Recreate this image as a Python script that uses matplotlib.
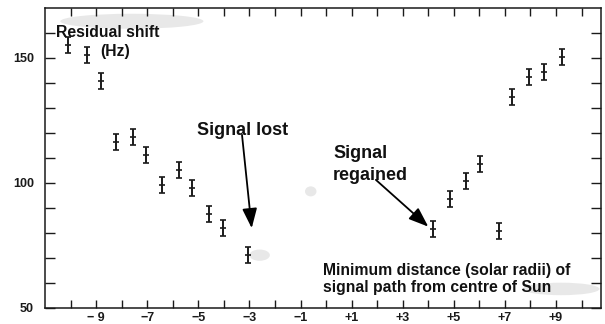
import matplotlib
matplotlib.use("Agg")
import matplotlib.pyplot as plt
from matplotlib.patches import Ellipse
import numpy as np

# ---- data ----
x_vals = [-10.09, -9.37, -8.81, -8.23, -7.55, -7.05, -6.44, -5.76, -5.25, -4.57, -4.05, -3.05,
          4.20, 4.85, 5.48, 6.03, 6.77, 7.27, 7.94, 8.54, 9.22]
y_vals = [155.1, 151.2, 140.5, 116.3, 118.4, 111.2, 99.2, 105.1, 98.0, 87.6, 82.0, 71.0,
          81.3, 93.5, 100.7, 107.5, 80.7, 134.4, 142.2, 144.3, 150.4]
y_err = [3.2] * len(x_vals)

x_tick_pos = [-9, -7, -5, -3, -1, 1, 3, 5, 7, 9]
x_tick_labels = ['\u2212 9', '\u22127', '\u22125', '\u22123', '\u22121', '+1', '+3', '+5', '+7', '+9']
y_tick_pos = [50, 100, 150]
y_tick_labels = ['50', '100', '150']

plt.rcParams['font.family'] = ['Liberation Sans', 'DejaVu Sans']

fig = plt.figure(figsize=(6.05, 3.24), dpi=100)
ax = fig.add_axes([45/605, 1-307.7/324, (601-45)/605, (307.7-8)/324])
ax.set_xlim(-11.0, 10.76)
ax.set_ylim(50, 169.8)

ink = '#1a1a1a'

# scan smudges
for (cx, cy, w, h) in [(-7.6, 164.5, 5.6, 6.0), (-2.6, 71.0, 0.8, 4.5), (-0.6, 96.5, 0.45, 4.0),
                        (9.2, 57.5, 3.0, 5.0)]:
    ax.add_patch(Ellipse((cx, cy), w, h, color='#e8e8e8', lw=0, zorder=0))

ax.errorbar(x_vals, y_vals, yerr=y_err, fmt='_', color=ink, ecolor=ink,
            elinewidth=1.4, capsize=2.3, capthick=1.3, markersize=4.5, markeredgewidth=1.2,
            zorder=3)

# ticks
ax.set_xticks(np.arange(-10, 11, 1), minor=True)
ax.set_xticks(x_tick_pos)
ax.set_xticklabels(x_tick_labels, fontsize=9, fontweight='bold', color=ink)
ax.set_yticks(np.arange(60, 170, 10), minor=True)
ax.set_yticks(y_tick_pos)
ax.set_yticklabels(y_tick_labels, fontsize=9, fontweight='bold', color=ink)
ax.tick_params(which='both', direction='in', top=True, right=True, color=ink, width=1.0)
ax.tick_params(which='both', length=6)
ax.tick_params(axis='x', which='major', pad=3)
ax.tick_params(axis='y', which='both', length=7)
ax.tick_params(axis='y', which='major', pad=8)
for s in ax.spines.values():
    s.set_color(ink)
    s.set_linewidth(1.1)

tkw = dict(fontweight='bold', color='#111111', va='center', ha='left')
ax.text(-10.57, 160.1, 'Residual shift', fontsize=11.3, **tkw)
ax.text(-8.85, 152.3, '(Hz)', fontsize=11.3, **tkw)
ax.text(-5.06, 120.7, 'Signal lost', fontsize=13, **tkw)
ax.text(0.27, 111.7, 'Signal', fontsize=13, **tkw)
ax.text(0.27, 102.9, 'regained', fontsize=13, **tkw)
ax.text(-0.13, 64.7, 'Minimum distance (solar radii) of', fontsize=11.3, **tkw)
ax.text(-0.13, 58.1, 'signal path from centre of Sun', fontsize=11.3, **tkw)

akw = dict(arrowstyle='-|>,head_length=1.2,head_width=0.45', color='black', lw=1.3,
           shrinkA=0, shrinkB=0)
ax.annotate('', xy=(-2.91, 81.8), xytext=(-3.29, 119.1), arrowprops=akw)
ax.annotate('', xy=(4.0, 82.4), xytext=(1.95, 101.1), arrowprops=akw)

fig.savefig('out.png', dpi=100, facecolor='white')
